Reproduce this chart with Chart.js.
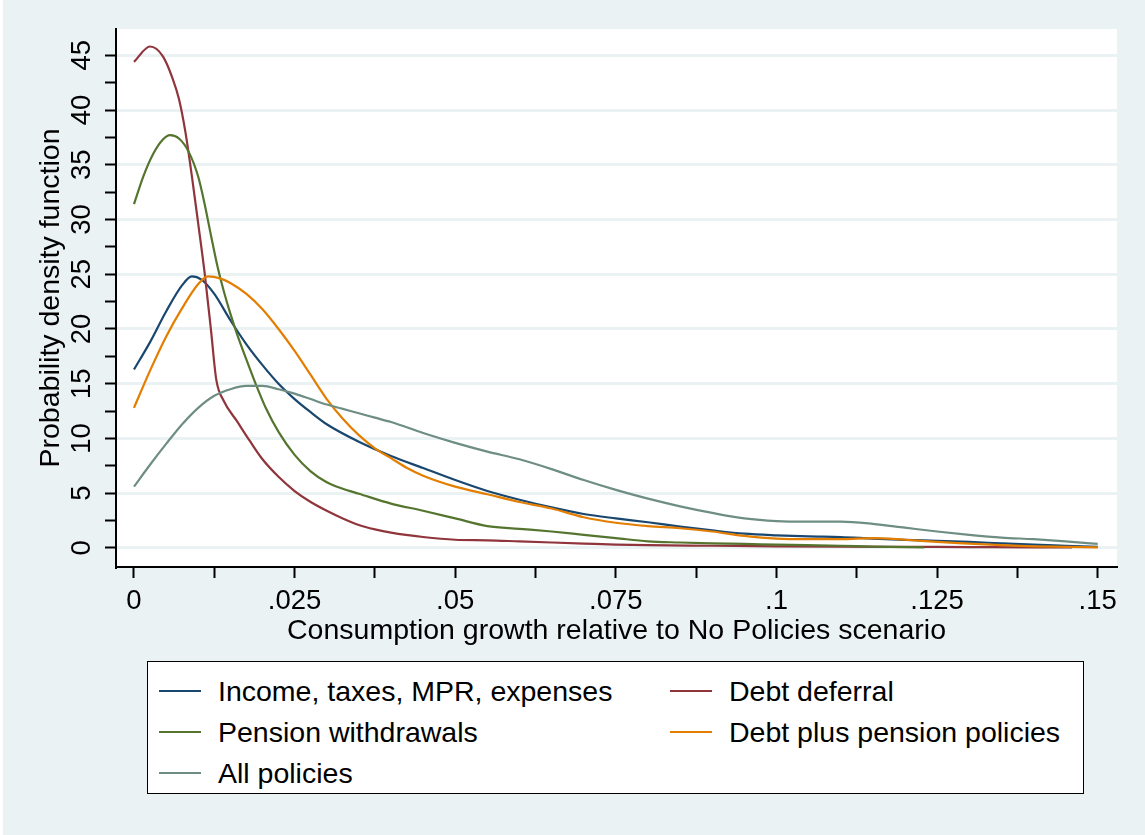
<!DOCTYPE html>
<html>
<head>
<meta charset="utf-8">
<script src="https://cdn.jsdelivr.net/npm/chart.js@4/dist/chart.umd.min.js"></script>
<style>
  html, body { margin: 0; padding: 0; background: #fff; }
  #wrap {
    position: absolute; left: 0; top: 0; width: 1145px; height: 835px;
    background: linear-gradient(to right, #fff 0, #fff 3px, #EAF2F3 3px);
    font-family: 'Liberation Sans', Arial, sans-serif;
  }
  #chart { position: absolute; left: 0; top: 0; }
  #legend {
    position: absolute; left: 147px; top: 661px; width: 937px; height: 133px;
    background: #fff; border: 1px solid #000; box-sizing: border-box;
  }
  .item { position: absolute; height: 34px; line-height: 34px; font-size: 28.5px; color: #000; white-space: nowrap; }
  .swatch { position: absolute; top: 16px; width: 42px; height: 2px; }
  .label { position: absolute; top: 0; }
</style>
</head>
<body>
<div id="wrap">
  <canvas id="chart" width="1145" height="835"></canvas>
  <div id="legend"></div>
</div>
<script>
// ---------------- data ----------------
const seriesNames = [
  'Income, taxes, MPR, expenses',
  'Debt deferral',
  'Pension withdrawals',
  'Debt plus pension policies',
  'All policies'
]
const seriesColors = ['#1A476F', '#90353B', '#55752F', '#E37E00', '#6E8E84']

const xIncome = [0, .0025, .005, .0075, .009, .0105, .0125, .015, .0175, .02, .0225, .025, .0275, .03, .035, .04, .045, .05, .055, .06, .065, .07, .075, .08, .085, .09, .095, .1, .105, .11, .115, .12, .125, .13, .135, .14, .145, .15]
const yIncome = [16.3, 18.8, 21.6, 24.0, 24.8, 24.5, 23.2, 20.8, 18.6, 16.7, 15.0, 13.6, 12.4, 11.3, 9.7, 8.4, 7.3, 6.2, 5.2, 4.4, 3.7, 3.1, 2.7, 2.35, 1.95, 1.6, 1.3, 1.15, 1.05, 1.0, 0.85, 0.73, 0.65, 0.55, 0.42, 0.3, 0.2, 0.1]

const xDebt = [0, .0025, .0045, .006, .007, .008, .009, .01, .011, .012, .0128, .014, .016, .018, .02, .0225, .025, .0275, .03, .0325, .035, .0375, .04, .045, .05, .055, .06, .065, .07, .075, .08, .09, .1, .11, .12, .13, .14, .146]
const yDebt = [44.4, 45.8, 44.9, 42.9, 41.0, 38.0, 34.0, 29.6, 25.1, 19.8, 15.4, 13.4, 11.6, 9.8, 8.1, 6.5, 5.2, 4.2, 3.4, 2.7, 2.1, 1.7, 1.4, 1.0, 0.75, 0.7, 0.6, 0.5, 0.4, 0.3, 0.25, 0.2, 0.15, 0.12, 0.1, 0.08, 0.06, 0.05]

const xPension = [0, .0015, .003, .0045, .0056, .007, .0085, .01, .011, .012, .013, .014, .015, .016, .0175, .019, .0205, .0225, .025, .0275, .03, .0325, .035, .04, .045, .05, .055, .06, .065, .07, .075, .08, .085, .09, .095, .1, .11, .115, .123]
const yPension = [31.4, 34.0, 36.0, 37.3, 37.7, 37.4, 36.2, 33.9, 31.4, 28.5, 25.7, 23.4, 21.4, 19.6, 17.2, 14.9, 12.8, 10.6, 8.5, 7.0, 6.0, 5.4, 4.95, 4.05, 3.4, 2.7, 2.0, 1.75, 1.5, 1.2, 0.9, 0.6, 0.5, 0.42, 0.37, 0.3, 0.2, 0.12, 0.05]

const xDebtPension = [0, .0025, .005, .0075, .01, .0115, .0135, .015, .0175, .02, .0225, .025, .0275, .03, .0325, .035, .0375, .04, .0425, .045, .05, .055, .06, .065, .07, .075, .08, .085, .09, .095, .1, .105, .11, .115, .12, .125, .13, .135, .14, .145, .15]
const yDebtPension = [12.8, 16.2, 19.3, 21.9, 24.1, 24.8, 24.6, 24.2, 23.2, 21.8, 20.0, 18.0, 15.8, 13.6, 11.8, 10.3, 9.1, 8.2, 7.3, 6.6, 5.6, 4.9, 4.2, 3.6, 2.8, 2.3, 2.0, 1.8, 1.5, 1.1, 0.85, 0.8, 0.8, 0.9, 0.75, 0.55, 0.4, 0.25, 0.15, 0.1, 0.05]

const xAll = [0, .0025, .005, .0075, .01, .0125, .015, .0175, .02, .0225, .025, .0275, .03, .0325, .035, .0375, .04, .045, .05, .055, .06, .065, .07, .075, .08, .085, .09, .095, .1, .105, .11, .115, .12, .125, .13, .135, .14, .145, .15]
const yAll = [5.6, 7.6, 9.5, 11.3, 12.8, 13.9, 14.5, 14.8, 14.8, 14.5, 14.1, 13.6, 13.1, 12.7, 12.3, 11.9, 11.5, 10.5, 9.6, 8.8, 8.1, 7.2, 6.2, 5.3, 4.5, 3.8, 3.2, 2.7, 2.45, 2.4, 2.4, 2.2, 1.85, 1.5, 1.2, 0.95, 0.8, 0.6, 0.37]

const xSeries = [xIncome, xDebt, xPension, xDebtPension, xAll]
const ySeries = [yIncome, yDebt, yPension, yDebtPension, yAll]

const xTitle = 'Consumption growth relative to No Policies scenario'
const yTitle = 'Probability density function'

// ---------------- chart ----------------
const fontFamily = "'Liberation Sans', Arial, sans-serif"

const datasets = seriesNames.map((name, i) => ({
  label: name,
  data: xSeries[i].map((x, j) => ({ x: x, y: ySeries[i][j] })),
  borderColor: seriesColors[i],
  backgroundColor: seriesColors[i],
  borderWidth: 2.2,
  pointRadius: 0,
  fill: false,
  cubicInterpolationMode: 'monotone',
  order: seriesNames.length - i   // later series drawn on top, like Stata
}))

const plotBg = {
  id: 'plotBg',
  beforeDraw(chart) {
    const { ctx, chartArea: a } = chart
    ctx.save()
    ctx.fillStyle = '#fff'
    ctx.fillRect(a.left, a.top, a.right - a.left, a.bottom - a.top)
    ctx.restore()
  }
}

const xLabel = v => {
  const k = v / 0.025
  if (Math.abs(k - Math.round(k)) > 1e-6) return ''
  if (Math.abs(v) < 1e-9) return '0'
  return String(+v.toFixed(3)).replace(/^0/, '')
}

const chart = new Chart(document.getElementById('chart'), {
  type: 'line',
  data: { datasets: datasets },
  plugins: [plotBg],
  options: {
    responsive: false,
    animation: false,
    layout: { padding: { left: 0, top: 29, right: 28, bottom: 187 } },
    plugins: { legend: { display: false }, tooltip: { enabled: false } },
    scales: {
      x: {
        type: 'linear',
        min: -0.0028,
        max: 0.153,
        border: { color: '#000', width: 2 },
        grid: { drawOnChartArea: false, tickLength: 11, tickColor: '#000', tickWidth: 2 },
        ticks: {
          stepSize: 0.0125,
          includeBounds: false,
          autoSkip: false,
          maxRotation: 0,
          padding: 6.5,
          color: '#000',
          font: { family: fontFamily, size: 27.5 },
          callback: v => xLabel(v)
        },
        title: {
          display: true, text: xTitle, color: '#000',
          font: { family: fontFamily, size: 28.5 },
          padding: { top: 0, bottom: 0 }
        },
        afterFit: s => { s.height = 81 }
      },
      y: {
        type: 'linear',
        min: -1.74,
        max: 47.4,
        border: { color: '#000', width: 2 },
        grid: {
          color: c => (c.tick && c.tick.value % 5 === 0) ? '#EAF2F3' : 'rgba(0,0,0,0)',
          lineWidth: 3,
          tickLength: 11, tickColor: '#000', tickWidth: 2
        },
        ticks: {
          stepSize: 2.5,
          includeBounds: false,
          autoSkip: false,
          minRotation: 90,
          maxRotation: 90,
          crossAlign: 'center',
          padding: 7,
          color: '#000',
          font: { family: fontFamily, size: 27.5 },
          callback: v => (v % 5 === 0 ? String(v) : '')
        },
        title: {
          display: true, text: yTitle, color: '#000',
          font: { family: fontFamily, size: 28.5 },
          padding: { top: 34, bottom: 0 }
        },
        afterFit: s => { s.width = 116 }
      }
    }
  }
})

// ---------------- legend (Stata style, 2 columns, row-wise) ----------------
const legend = document.getElementById('legend')
const colLeft = [11, 522]
const rowTop = [12, 53, 94]
chart.data.datasets.forEach((ds, i) => {
  const item = document.createElement('div')
  item.className = 'item'
  item.style.left = colLeft[i % 2] + 'px'
  item.style.top = rowTop[Math.floor(i / 2)] + 'px'
  const sw = document.createElement('div')
  sw.className = 'swatch'
  sw.style.left = '0px'
  sw.style.background = ds.borderColor
  const lb = document.createElement('div')
  lb.className = 'label'
  lb.style.left = '59px'
  lb.textContent = ds.label
  item.append(sw, lb)
  legend.append(item)
})
</script>
</body>
</html>
